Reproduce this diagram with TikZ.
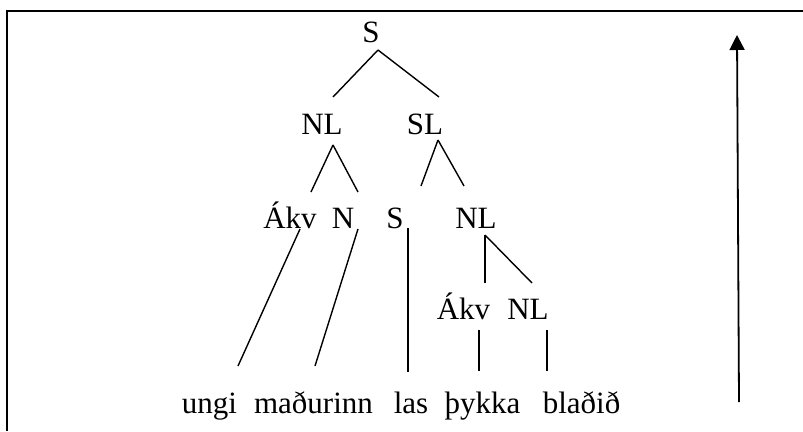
\documentclass[tikz,border=0pt]{standalone}
\usepackage{fontspec}
\setmainfont{Liberation Serif}
\usetikzlibrary{arrows.meta}
\begin{document}
\begin{tikzpicture}[x=1pt,y=-1pt,
  lbl/.style={anchor=base,inner sep=0pt,font=\fontsize{31pt}{36pt}\selectfont},
  branch/.style={line width=1.4pt},
  frame/.style={line width=2.6pt},
  axis/.style={line width=1.8pt,-{Triangle[width=15pt,length=15pt]}}]
  \fill[white] (0,0) rectangle (803,431);
  \useasboundingbox (0,0) rectangle (803,431);
  % open frame: left and top sides
  \draw[frame] (7,431) -- (7,11) -- (803,11);

  % tree labels
  \node[lbl] (s0) at (371,42) {S};
  \node[lbl] (nl1) at (322,134) {NL};
  \node[lbl] (sl1) at (425,134) {SL};
  \node[lbl] (akv2) at (290,228) {Ákv};
  \node[lbl] (n2) at (343,228) {N};
  \node[lbl] (s2) at (395,228) {S};
  \node[lbl] (nl2) at (476,228) {NL};
  \node[lbl] (akv3) at (463.5,319) {Ákv};
  \node[lbl] (nl3) at (528,319) {NL};

  % words
  \node[lbl] (w1) at (209.5,413) {ungi};
  \node[lbl] (w2) at (313.5,413) {maðurinn};
  \node[lbl] (w3) at (411,413) {las};
  \node[lbl] (w4) at (482.5,413) {þykka};
  \node[lbl] (w5) at (581.5,413) {blaðið};

  % branches
  \draw[branch] ([shift={(7,8)}]s0.base) -- ([shift={(11,-37)}]nl1.base);
  \draw[branch] ([shift={(7,8)}]s0.base) -- ([shift={(14,-37)}]sl1.base);
  \draw[branch] ([shift={(11,11)}]nl1.base) -- ([shift={(21,-36)}]akv2.base);
  \draw[branch] ([shift={(11,11)}]nl1.base) -- ([shift={(15,-36)}]n2.base);
  \draw[branch] ([shift={(13,6)}]sl1.base) -- ([shift={(26,-42)}]s2.base);
  \draw[branch] ([shift={(13,6)}]sl1.base) -- ([shift={(-12,-42)}]nl2.base);
  \draw[branch] ([shift={(10,1)}]akv2.base) -- ([shift={(28.5,-47)}]w1.base);
  \draw[branch] ([shift={(15,1)}]n2.base) -- ([shift={(1.5,-47)}]w2.base);
  \draw[branch] ([shift={(13,0)}]s2.base) -- ([shift={(-3,-41)}]w3.base);
  \draw[branch] ([shift={(9,7)}]nl2.base) -- ([shift={(21.5,-36)}]akv3.base);
  \draw[branch] ([shift={(9,7)}]nl2.base) -- ([shift={(4,-36)}]nl3.base);
  \draw[branch] ([shift={(15.5,11)}]akv3.base) -- ([shift={(-3.5,-42)}]w4.base);
  \draw[branch] ([shift={(19,11)}]nl3.base) -- ([shift={(-34.5,-42)}]w5.base);

  % upward arrow
  \coordinate (abot) at (739,402);
  \coordinate (atop) at (737,35);
  \draw[axis] (abot) -- (atop);
\end{tikzpicture}
\end{document}
